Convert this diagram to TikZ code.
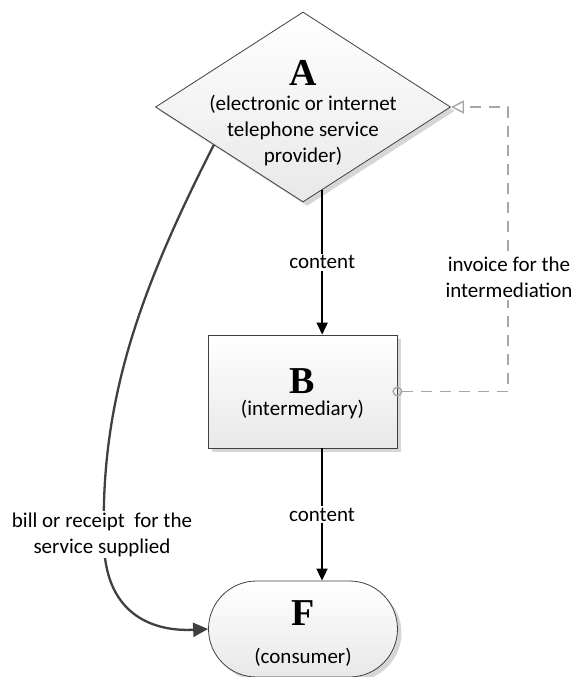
\documentclass[tikz,border=0pt]{standalone}
\usepackage{fontspec}
\setmainfont{Carlito}
\newfontfamily\serifbold{Liberation Serif}
\usetikzlibrary{shapes.geometric,shapes.misc,arrows.meta,shadows,calc}
\begin{document}
\begin{tikzpicture}[x=1pt,y=1pt,
  shapebox/.style={draw=black!75, line width=0.8pt, top color=white, bottom color=black!9,
    drop shadow={shadow xshift=4pt,shadow yshift=-4pt,fill=black!16,opacity=1}},
  big/.style={font=\serifbold\bfseries\fontsize{38}{40}\selectfont, inner sep=0pt},
  txt/.style={font=\fontsize{21}{26}\selectfont, align=center, inner sep=0pt},
  lbl/.style={txt, fill=white, inner sep=2pt},
  flow/.style={line width=1.7pt, black, -{Triangle[length=12pt,width=11pt]}},
  billcurve/.style={line width=2.3pt, black!75, -{Triangle[length=15pt,width=14pt]}},
  invoice/.style={line width=1.6pt, black!35, dash pattern=on 11pt off 8pt,
    {Circle[open,length=10pt,width=10pt,line width=1.4pt,sep=-5pt]}-{Triangle[open,length=13pt,width=13pt,line width=1.4pt]}}
]
\useasboundingbox (0,0) rectangle (574,-677);

% shapes
\node[shapebox, diamond, inner sep=0pt, minimum width=295pt, minimum height=190pt] (A) at (303,-107) {};
\node[big] (Aletter) at (303,-73) {A};
\node[txt] (Atext) at (303,-131) {(electronic or internet\\telephone service\\provider)};

\node[shapebox, rectangle, inner sep=0pt, minimum width=189pt, minimum height=113pt] (B) at (302.5,-391.5) {};
\node[big] (Bletter) at (302.5,-381) {B};
\node[txt] (Btext) at (302.5,-410) {(intermediary)};

\node[shapebox, rounded rectangle, inner sep=0pt, minimum width=189pt, minimum height=96pt] (F) at (303,-629) {};
\node[big] (Fletter) at (303,-613) {F};
\node[txt] (Ftext) at (303,-657) {(consumer)};

% connectors
\coordinate (ax) at (322,0);
\draw[flow] (A.-77) -- (A.-77 |- B.north) node[lbl, midway] (c1) {content};
\draw[flow] (B.south -| ax) -- (F.north -| ax) node[lbl, midway] (c2) {content};

\draw[billcurve] (A.-157) .. controls (140,-290) and (100,-400) .. (104,-540)
   .. controls (104,-612) and (150,-632) .. (F.west);
\node[lbl] (bill) at (102,-534.5) {bill or receipt\ \ for the\\service supplied};

\coordinate (dx) at (508,0);
\draw[invoice] (B.east) -- (B.east -| dx) -- (A.east -| dx) -- (A.east);
\node[lbl] (inv) at (509,-277.5) {invoice for the\\intermediation};
\end{tikzpicture}
\end{document}
